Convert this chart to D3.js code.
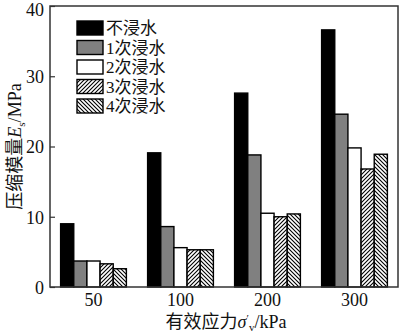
<!DOCTYPE html>
<html><head><meta charset="utf-8">
<script src="https://cdn.jsdelivr.net/npm/d3@7/dist/d3.min.js"></script>
<style>body{margin:0;background:#fff}svg{display:block}</style>
</head><body>
<script>
const categories = ["50", "100", "200", "300"];
const seriesNames = ["不浸水", "1次浸水", "2次浸水", "3次浸水", "4次浸水"];
const s0 = [9.0, 19.1, 27.6, 36.6];
const s1 = [3.7, 8.6, 18.8, 24.6];
const s2 = [3.7, 5.6, 10.5, 19.8];
const s3 = [3.3, 5.3, 10.0, 16.8];
const s4 = [2.6, 5.3, 10.4, 18.9];
const yTicks = [0, 10, 20, 30, 40];
const seriesValues = [s0, s1, s2, s3, s4];

const W = 400, H = 332;
const m = {l: 50, r: 2, t: 6, b: 45};
const font = "'Liberation Serif','Times New Roman','Noto Sans CJK SC',serif";
const svg = d3.select("body").append("svg").attr("width", W).attr("height", H);
const defs = svg.append("defs");
function hatch(id, dir) {
  const p = defs.append("pattern").attr("id", id).attr("patternUnits", "userSpaceOnUse")
    .attr("width", 4).attr("height", 4);
  p.append("rect").attr("width", 4).attr("height", 4).attr("fill", "#fff");
  const d = dir > 0 ? "M-1,1 l2,-2 M0,4 l4,-4 M3,5 l2,-2" : "M-1,3 l2,2 M0,0 l4,4 M3,-1 l2,2";
  p.append("path").attr("d", d).attr("stroke", "#000").attr("stroke-width", 1.1);
}
hatch("h3", 1); hatch("h4", -1);
const fills = ["#000", "#808080", "#fff", "url(#h3)", "url(#h4)"];

const x0 = d3.scaleBand().domain(categories).range([m.l, W - m.r]).paddingInner(0.244).paddingOuter(0.122);
const x1 = d3.scaleBand().domain(d3.range(5)).range([0, x0.bandwidth()]);
const y = d3.scaleLinear().domain([0, 40]).range([H - m.b, m.t]);

const g = svg.append("g");
categories.forEach((c, i) => {
  seriesValues.forEach((s, j) => {
    g.append("rect").attr("x", x0(c) + x1(j)).attr("y", y(s[i]))
      .attr("width", x1.bandwidth()).attr("height", y(0) - y(s[i]))
      .attr("fill", fills[j]).attr("stroke", "#000").attr("stroke-width", 1.4);
  });
});

// frame
svg.append("rect").attr("x", m.l).attr("y", m.t).attr("width", W - m.r - m.l).attr("height", H - m.b - m.t)
  .attr("fill", "none").attr("stroke", "#333").attr("stroke-width", 1.5);

// y axis
const ya = svg.append("g").attr("transform", `translate(${m.l},0)`)
  .call(d3.axisLeft(y).tickValues(yTicks).tickSizeInner(-5).tickSizeOuter(0).tickPadding(6));
ya.select(".domain").remove();
ya.selectAll("line").attr("stroke", "#333").attr("stroke-width", 1.2);
ya.selectAll("text").attr("font-family", font).attr("font-size", 18).attr("fill", "#111")
  .attr("dy", d => d === 40 ? "0.55em" : "0.35em");

// x axis
const xa = svg.append("g").attr("transform", `translate(0,${H - m.b})`)
  .call(d3.axisBottom(x0).tickSize(0).tickPadding(6));
xa.select(".domain").remove();
xa.selectAll("text").attr("font-family", font).attr("font-size", 18).attr("fill", "#111");

// x title
const xt = svg.append("text").attr("x", (m.l + W - m.r) / 2 + 2).attr("y", 328).attr("text-anchor", "middle")
  .attr("font-family", font).attr("font-size", 18).attr("fill", "#111");
xt.append("tspan").text("有效应力");
xt.append("tspan").attr("font-style", "italic").text("σ");
xt.append("tspan").attr("font-size", 11).attr("dy", -6).text("′");
xt.append("tspan").attr("font-size", 11).attr("dy", 9).text("v");
xt.append("tspan").attr("dy", -3).text("/kPa");

// y title
const yt = svg.append("text").attr("transform", `translate(21,${(m.t + H - m.b) / 2}) rotate(-90)`)
  .attr("text-anchor", "middle").attr("font-family", font).attr("font-size", 18).attr("fill", "#111");
yt.append("tspan").text("压缩模量");
yt.append("tspan").attr("font-style", "italic").text("E");
yt.append("tspan").attr("font-size", 11).attr("dy", 4).text("s");
yt.append("tspan").attr("dy", -4).text("/MPa");

// legend
const lg = svg.append("g");
seriesNames.forEach((n, j) => {
  const yy = 21 + j * 19.5;
  lg.append("rect").attr("x", 77).attr("y", yy).attr("width", 26).attr("height", 14)
    .attr("fill", fills[j]).attr("stroke", "#000").attr("stroke-width", 1.4);
  lg.append("text").attr("x", 106).attr("y", yy + 13).attr("font-family", font).attr("font-size", 17)
    .attr("fill", "#111").text(n);
});
</script>
</body></html>
